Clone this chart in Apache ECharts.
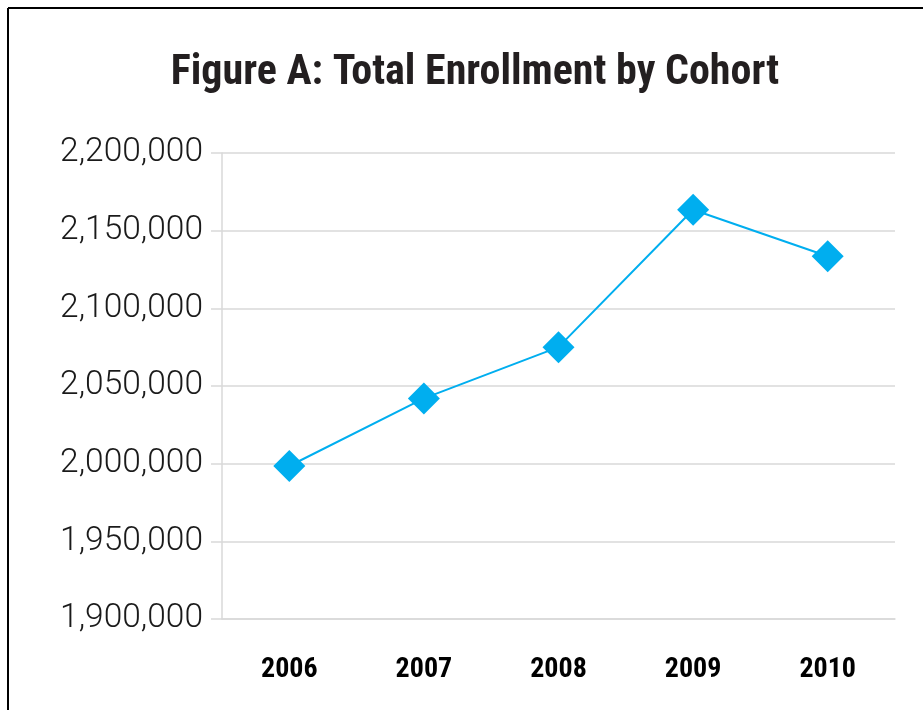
<!DOCTYPE html>
<html><head><meta charset="utf-8">
<script src="https://cdn.jsdelivr.net/npm/echarts@6/dist/echarts.min.js"></script>
<style>html,body{margin:0;padding:0;background:#fff}#c{width:923px;height:710px}</style>
</head><body><div id="c"></div>
<script>
const categories = ['2006', '2007', '2008', '2009', '2010'];
const enrollment = [1998500, 2042000, 2075000, 2163500, 2133500];
const yMin = 1900000, yMax = 2200000, yStep = 50000;
const titleText = 'Figure A: Total Enrollment by Cohort';

const chart = echarts.init(document.getElementById('c'));
chart.setOption({
  animation: false,
  backgroundColor: '#fff',
  title: {
    text: titleText, left: 475, top: 47, textAlign: 'center',
    textStyle: { fontFamily: 'Roboto Condensed', fontWeight: 'bold', fontSize: 42, color: '#231f20' }
  },
  graphic: [
    { type: 'line', shape: { x1: 8, y1: 8, x2: 923, y2: 8 }, style: { stroke: '#000', lineWidth: 2 } },
    { type: 'line', shape: { x1: 8, y1: 8, x2: 8, y2: 710 }, style: { stroke: '#000', lineWidth: 2 } }
  ],
  grid: { left: 222, right: 28, top: 153, bottom: 91 },
  xAxis: {
    type: 'category', data: categories, boundaryGap: true,
    axisLine: { lineStyle: { color: '#d9d9d9', width: 1.5 } },
    axisTick: { show: false },
    axisLabel: { margin: 37, fontFamily: 'Roboto Condensed', fontWeight: 'bold', fontSize: 28, color: '#000' }
  },
  yAxis: {
    type: 'value', min: yMin, max: yMax, interval: yStep,
    axisLine: { show: true, lineStyle: { color: '#d9d9d9', width: 1.5 } },
    axisTick: { show: true, length: 11, lineStyle: { color: '#d9d9d9', width: 1.5 } },
    splitLine: { lineStyle: { color: '#d9d9d9', width: 1.5 } },
    axisLabel: {
      margin: 19, fontFamily: 'Roboto', fontWeight: 300, fontSize: 33.5, color: '#1a1a1a',
      formatter: v => v.toLocaleString('en-US')
    }
  },
  series: [{
    type: 'line', data: enrollment,
    symbol: 'diamond', symbolSize: 32,
    lineStyle: { color: '#00aeef', width: 2 },
    itemStyle: { color: '#00aeef' }
  }]
});
chart.setOption({ title: { left: 470 } });
</script></body></html>
